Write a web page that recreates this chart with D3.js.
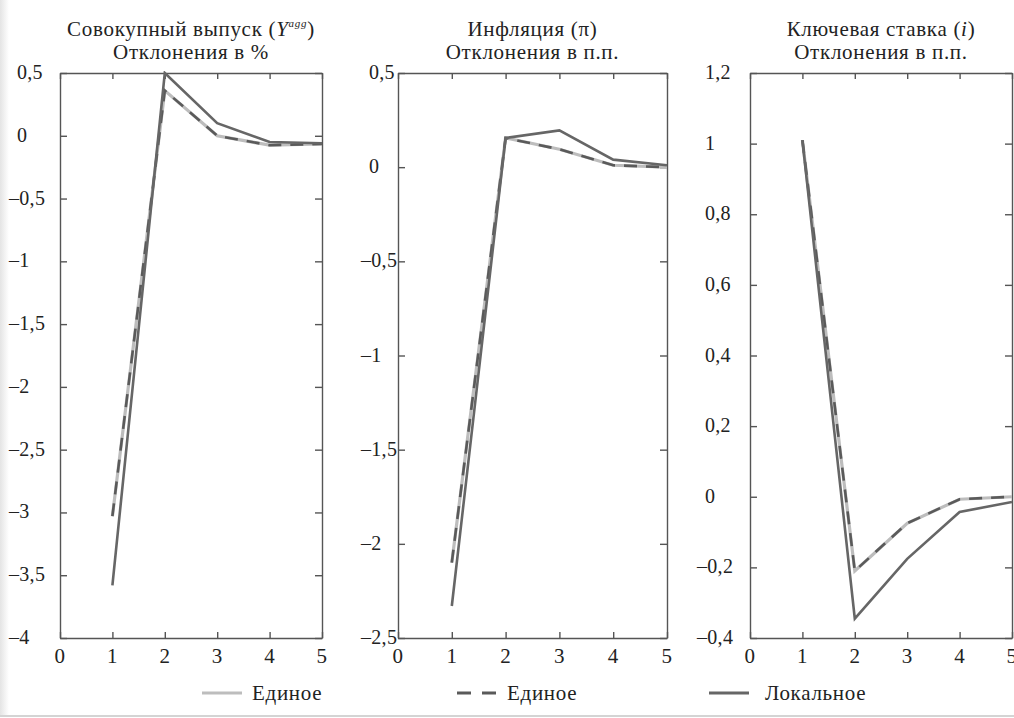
<!DOCTYPE html>
<html>
<head>
<meta charset="utf-8">
<script src="https://cdn.jsdelivr.net/npm/d3@7"></script>
<style>
  body { margin: 0; background: #fff; }
  svg { display: block; }
  text { font-family: "Liberation Serif", "Times New Roman", serif; fill: #222; letter-spacing: 0.7px; }
  text.tick-label { letter-spacing: 0.3px; }
</style>
</head>
<body>
<svg id="chart" width="1014" height="718"></svg>
<script>
// периоды
var periods = [1, 2, 3, 4, 5];

// Совокупный выпуск
var outputSingle = [-3.03, 0.36, 0.0, -0.075, -0.065];
var outputLocal  = [-3.58, 0.5, 0.1, -0.05, -0.06];

// Инфляция
var inflSingle = [-2.1, 0.155, 0.095, 0.01, 0.0];
var inflLocal  = [-2.33, 0.155, 0.195, 0.04, 0.01];

// Ключевая ставка
var rateSingle = [1.01, -0.21, -0.075, -0.007, 0.0];
var rateLocal  = [1.01, -0.345, -0.176, -0.043, -0.015];

var xTicks = [0, 1, 2, 3, 4, 5];
var yTicksOutput = [0.5, 0, -0.5, -1, -1.5, -2, -2.5, -3, -3.5, -4];
var yTicksInfl = [0.5, 0, -0.5, -1, -1.5, -2, -2.5];
var yTicksRate = [1.2, 1, 0.8, 0.6, 0.4, 0.2, 0, -0.2, -0.4];

var legendNames = ['Единое', 'Единое', 'Локальное'];

var svg = d3.select('#chart');

// рамка / тень слева и снизу
var defs = svg.append('defs');
var grad = defs.append('linearGradient').attr('id', 'shadow')
  .attr('x1', 0).attr('x2', 1).attr('y1', 0).attr('y2', 0);
grad.append('stop').attr('offset', '0%').attr('stop-color', '#e4e4e4');
grad.append('stop').attr('offset', '100%').attr('stop-color', '#ffffff');
svg.append('rect').attr('x', 0).attr('y', 0).attr('width', 9).attr('height', 716)
  .attr('fill', 'url(#shadow)');
svg.append('line').attr('x1', 0).attr('x2', 1014).attr('y1', 716).attr('y2', 716)
  .attr('stroke', '#d4d4d4').attr('stroke-width', 2);

var plotTop = 73, plotBottom = 638;

var panels = [
  { left: 60, right: 322, domain: [-4, 0.5], ticks: yTicksOutput, single: outputSingle, local: outputLocal, labelX: 17,
    title: 'output', sub: 'Отклонения в %' },
  { left: 398, right: 667, domain: [-2.5, 0.5], ticks: yTicksInfl, single: inflSingle, local: inflLocal, labelX: 369,
    title: 'infl', sub: 'Отклонения в п.п.' },
  { left: 750, right: 1012, domain: [-0.4, 1.2], ticks: yTicksRate, single: rateSingle, local: rateLocal, labelX: 705,
    title: 'rate', sub: 'Отклонения в п.п.' }
];

function fmt(v) {
  return String(Math.abs(v)).replace('.', ',');
}

panels.forEach(function(p, k) {
  var x = d3.scaleLinear().domain([0, 5]).range([p.left, p.right]);
  var y = d3.scaleLinear().domain(p.domain).range([plotBottom, plotTop]);
  var g = svg.append('g');
  var cx = (p.left + p.right) / 2;

  // заголовки
  var t1 = g.append('text').attr('x', cx).attr('y', 36).attr('text-anchor', 'middle').attr('font-size', 21);
  if (p.title == 'output') {
    t1.append('tspan').text('Совокупный выпуск (');
    t1.append('tspan').attr('font-style', 'italic').text('Y');
    t1.append('tspan').attr('font-style', 'italic').attr('font-size', 11).attr('dy', -9).text('agg');
    t1.append('tspan').attr('dy', 9).text(')');
  } else if (p.title == 'infl') {
    t1.text('Инфляция (π)');
  } else {
    t1.append('tspan').text('Ключевая ставка (');
    t1.append('tspan').attr('font-style', 'italic').text('i');
    t1.append('tspan').text(')');
  }
  g.append('text').attr('x', cx).attr('y', 59).attr('text-anchor', 'middle').attr('font-size', 21).text(p.sub);

  // оси
  var axL = g.append('g').attr('transform', 'translate(' + p.left + ',0)')
    .call(d3.axisLeft(y).tickValues(p.ticks).tickSizeInner(-7).tickSizeOuter(0).tickFormat(''));
  var axR = g.append('g').attr('transform', 'translate(' + p.right + ',0)')
    .call(d3.axisRight(y).tickValues(p.ticks).tickSizeInner(-7).tickSizeOuter(0).tickFormat(''));
  var axT = g.append('g').attr('transform', 'translate(0,' + plotTop + ')')
    .call(d3.axisTop(x).tickValues(xTicks).tickSizeInner(-6).tickSizeOuter(0).tickFormat(''));
  var axB = g.append('g').attr('transform', 'translate(0,' + plotBottom + ')')
    .call(d3.axisBottom(x).tickValues(xTicks).tickSizeInner(-6).tickSizeOuter(0).tickFormat(''));
  [axL, axR, axT, axB].forEach(function(a) {
    a.selectAll('path, line').attr('stroke', '#555').attr('stroke-width', 1.4);
  });

  // подписи по Y
  p.ticks.forEach(function(v) {
    g.append('text').attr('class', 'tick-label')
      .attr('x', p.labelX - (v < 0 ? 8 : 0))
      .attr('y', y(v) + 6)
      .attr('font-size', 20)
      .text((v < 0 ? '–' : '') + fmt(v));
  });
  // подписи по X
  xTicks.forEach(function(v) {
    g.append('text').attr('class', 'tick-label')
      .attr('x', x(v)).attr('y', 663)
      .attr('text-anchor', 'middle').attr('font-size', 21)
      .text(v);
  });

  var line = d3.line().x(function(d, i) { return x(periods[i]); }).y(function(d) { return y(d); });

  var clip = 'clip' + k;
  defs.append('clipPath').attr('id', clip).append('rect')
    .attr('x', p.left).attr('y', plotTop - 2).attr('width', p.right - p.left).attr('height', plotBottom - plotTop + 4);
  var lg = g.append('g').attr('clip-path', 'url(#' + clip + ')');

  lg.append('path').datum(p.single).attr('d', line).attr('fill', 'none')
    .attr('stroke', '#bdbdbd').attr('stroke-width', 3.2);
  lg.append('path').datum(p.single).attr('d', line).attr('fill', 'none')
    .attr('stroke', '#5a5a5a').attr('stroke-width', 2.6).attr('stroke-dasharray', '13,9');
  lg.append('path').datum(p.local).attr('d', line).attr('fill', 'none')
    .attr('stroke', '#666').attr('stroke-width', 2.6);
});

// легенда
var legendX = [202, 457, 709];
var legendStyles = [
  { stroke: '#bdbdbd', dash: null },
  { stroke: '#5a5a5a', dash: '14,11' },
  { stroke: '#666', dash: null }
];
legendNames.forEach(function(name, i) {
  var lx = legendX[i];
  svg.append('line').attr('x1', lx).attr('x2', lx + 40).attr('y1', 693).attr('y2', 693)
    .attr('stroke', legendStyles[i].stroke).attr('stroke-width', 3.2)
    .attr('stroke-dasharray', legendStyles[i].dash);
  svg.append('text').attr('x', lx + (i == 2 ? 56 : 50)).attr('y', 700).attr('font-size', 21).text(name);
});
</script>
</body>
</html>
